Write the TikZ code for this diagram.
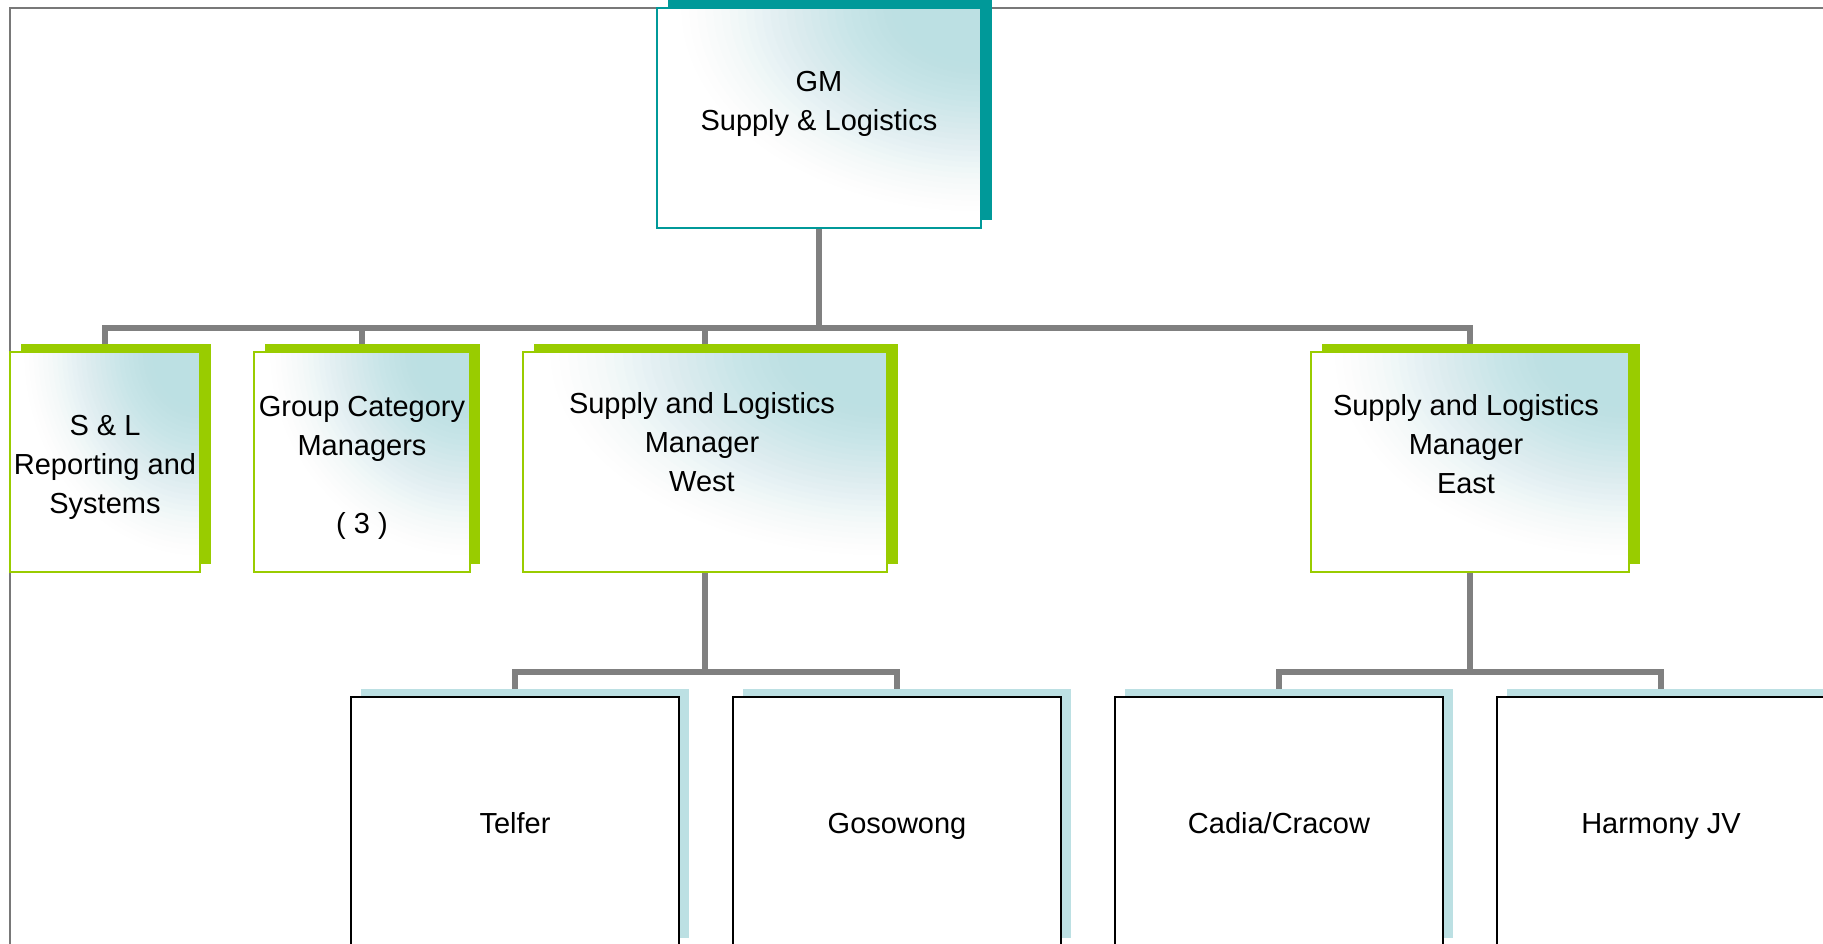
\documentclass[tikz,border=0pt]{standalone}
\usepackage{fontspec}
\setmainfont{Liberation Sans}
\usetikzlibrary{fit,calc}
\definecolor{glow}{RGB}{188,224,227}
\definecolor{tealdk}{RGB}{0,153,153}
\definecolor{lime}{RGB}{153,204,0}
\definecolor{conngray}{RGB}{128,128,128}
\definecolor{framegray}{RGB}{120,120,120}
\pgfdeclarelayer{connlayer}
\pgfdeclarelayer{paper}
\pgfsetlayers{paper,connlayer,main}
\newcommand{\lblfont}{\fontsize{14.5pt}{19.4pt}\selectfont}
% corner glow: top-left (x1,y1), bottom-right (x2,y2), y grows downwards
% stacked translucent ellipses centred on the top-right corner (smoothstep profile)
\newcommand{\glowfill}[4]{%
  \begin{scope}
    \clip (#1,#2) rectangle (#3,#4);
    \fill[white] (#1,#2) rectangle (#3,#4);
    \foreach \rr in {0.95,0.925,...,0.17} {%
      \pgfmathsetmacro{\sa}{min(1,max(0,(0.95-\rr+0.0125)/0.8))}%
      \pgfmathsetmacro{\sb}{min(1,max(0,(0.95-\rr-0.0125)/0.8))}%
      \pgfmathsetmacro{\va}{\sa*\sa*(3-2*\sa)}%
      \pgfmathsetmacro{\vb}{\sb*\sb*(3-2*\sb)}%
      \pgfmathsetmacro{\aa}{min(1,max(0,(\va-\vb)/max(0.001,1-\vb)))}%
      \fill[glow, fill opacity=\aa] (#3,#2) ellipse [x radius={\rr*(#3-#1)}, y radius={\rr*(#4-#2)}];
    }
  \end{scope}}
\begin{document}
\begin{tikzpicture}[x=0.5pt,y=-0.5pt,
  box/.style={inner sep=0pt, outer sep=0pt},
  gmbox/.style={box, draw=tealdk, line width=0.9pt},
  greenbox/.style={box, draw=lime, line width=0.9pt},
  sitebox/.style={box, draw=black, line width=1pt, fill=white},
  tealshadow/.style={box, fill=tealdk},
  greenshadow/.style={box, fill=lime},
  siteshadow/.style={box, fill=glow},
  conn/.style={draw=conngray, line width=3pt},
  lbl/.style={align=center, font=\lblfont, inner sep=0pt, anchor=base, text=black}
]
\useasboundingbox (0,0) rectangle (1823,943);
\clip (0,0) rectangle (1823,943);
\begin{pgfonlayer}{paper}
\fill[white] (0,0) rectangle (1823,943);
% slide frame
\draw[framegray, line width=0.6pt] (10,8) rectangle (1900,1000);
\end{pgfonlayer}

% shadows
\node[tealshadow, fit={(668,-4) (992,220)}] (gmS) {};
\node[greenshadow, fit={(21,344) (211,564)}] (slS) {};
\node[greenshadow, fit={(265,344) (480,564)}] (gcS) {};
\node[greenshadow, fit={(534,344) (898,564)}] (westS) {};
\node[greenshadow, fit={(1322,344) (1640,564)}] (eastS) {};
\node[siteshadow, fit={(361,689) (689,938)}] (telS) {};
\node[siteshadow, fit={(743,689) (1071,938)}] (gosS) {};
\node[siteshadow, fit={(1125,689) (1453,938)}] (cadS) {};
\node[siteshadow, fit={(1507,689) (1835,938)}] (harS) {};

% coordinates for buses
\coordinate (bus) at (819,328);
\coordinate (wbus) at (705,672);
\coordinate (ebus) at (1470,672);

% gradient fills of the upper boxes
\glowfill{657}{8}{981}{228}
\glowfill{10}{352}{200}{572}
\glowfill{254}{352}{470}{572}
\glowfill{523}{352}{887}{572}
\glowfill{1311}{352}{1629}{572}

% front boxes
\node[gmbox, fit={(657,8) (981,228)}] (gm) {};
\node[greenbox, fit={(10,352) (200,572)}] (sl) {};
\node[greenbox, fit={(254,352) (470,572)}] (gc) {};
\node[greenbox, fit={(523,352) (887,572)}] (west) {};
\node[greenbox, fit={(1311,352) (1629,572)}] (east) {};
\node[sitebox, fit={(351,697) (679,948)}] (telfer) {};
\node[sitebox, fit={(733,697) (1061,948)}] (goso) {};
\node[sitebox, fit={(1115,697) (1443,948)}] (cadia) {};
\node[sitebox, fit={(1497,697) (1825,948)}] (harmony) {};

% connectors (behind the boxes)
\begin{pgfonlayer}{connlayer}
\draw[conn] (gm.south) -- (bus);
\draw[conn] (sl.north) |- (bus);
\draw[conn] (gc.north) |- (bus);
\draw[conn] (west.north) |- (bus);
\draw[conn] (east.north) |- (bus);
\draw[conn] (west.south) -- (wbus);
\draw[conn] (telfer.north) |- (wbus);
\draw[conn] (goso.north) |- (wbus);
\draw[conn] (east.south) -- (ebus);
\draw[conn] (cadia.north) |- (ebus);
\draw[conn] (harmony.north) |- (ebus);
\end{pgfonlayer}

% labels (anchor base = baseline of the last line)
\node[lbl] (gmT) at (819,130) {GM\\Supply \& Logistics};
\node[lbl] (slT) at (105,513) {S \& L\\Reporting and\\Systems};
\node[lbl] (gcT) at (362,533) {Group Category\\Managers\\[19.4pt]( 3 )};
\node[lbl] (westT) at (702,491) {Supply and Logistics\\Manager\\West};
\node[lbl] (eastT) at (1466,493) {Supply and Logistics\\Manager\\East};
\node[lbl] (telT) at (515,833) {Telfer};
\node[lbl] (gosT) at (897,833) {Gosowong};
\node[lbl] (cadT) at (1279,833) {Cadia/Cracow};
\node[lbl] (harT) at (1661,833) {Harmony JV};
\end{tikzpicture}
\end{document}
